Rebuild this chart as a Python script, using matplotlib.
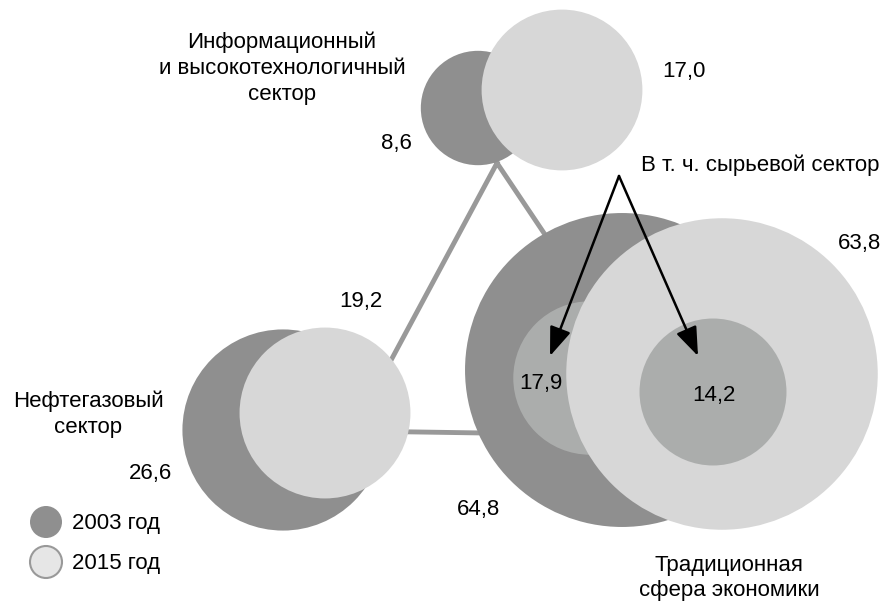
## Bubble diagram: structure of the economy by sector, 2003 vs 2015
#

import numpy as np
import matplotlib
matplotlib.use('Agg')
import matplotlib.pyplot as plt
from matplotlib.patches import Circle

## data

sectors = ['Информационный\nи высокотехнологичный\nсектор',
           'Нефтегазовый\nсектор',
           'Традиционная\nсфера экономики']
val2003 = [8.6, 26.6, 64.8]
val2015 = [17.0, 19.2, 63.8]
raw_label = 'В т. ч. сырьевой сектор'
raw2003 = 17.9
raw2015 = 14.2
years = ['2003 год', '2015 год']

## layout (pixel coordinates, y down)

k = 19.5                                  # radius = k * sqrt(value)
c2003 = [(478, 108), (283, 430), (622, 370)]
c2015 = [(562, 90), (325, 413), (722, 374)]
c_raw2003 = (590, 378)
c_raw2015 = (713, 392)
tri = [(497, 163), (353, 431), (680, 436)]

DARK = '#8f8f8f'
LIGHT = '#d7d7d7'
INNER = '#abadac'

plt.rcParams['font.family'] = ['Liberation Sans', 'DejaVu Sans']
FS = 16

fig = plt.figure(figsize=(8.89, 6.03), dpi=100)
fig.patch.set_facecolor('white')
ax = fig.add_axes([0, 0, 1, 1])
ax.set_xlim(0, 889)
ax.set_ylim(603, 0)
ax.axis('off')

# connecting triangle behind the bubbles
tx = [p[0] for p in tri] + [tri[0][0]]
ty = [p[1] for p in tri] + [tri[0][1]]
ax.plot(tx, ty, color='#999999', linewidth=3.5, zorder=1)

def r(v):
    return k * np.sqrt(v)

z = 2
for i in range(3):
    ax.add_patch(Circle(c2003[i], r(val2003[i]), facecolor=DARK, edgecolor='none', zorder=z))
    z += 1
    if i == 2:
        ax.add_patch(Circle(c_raw2003, r(raw2003) * 0.93, facecolor=INNER, edgecolor='none', zorder=z))
        z += 1
    ax.add_patch(Circle(c2015[i], r(val2015[i]), facecolor=LIGHT, edgecolor='none', zorder=z))
    z += 1
ax.add_patch(Circle(c_raw2015, r(raw2015), facecolor=INNER, edgecolor='none', zorder=z))
z += 1

def fmt(v):
    return ('%.1f' % v).replace('.', ',')

# sector names
ax.text(282, 68, sectors[0], fontsize=FS, ha='center', va='center', linespacing=1.3, zorder=20)
ax.text(88, 414, sectors[1], fontsize=FS, ha='center', va='center', linespacing=1.3, zorder=20)
ax.text(729, 578, sectors[2], fontsize=FS, ha='center', va='center', linespacing=1.3, zorder=20)

# values
ax.text(412, 144, fmt(val2003[0]), fontsize=FS, ha='right', va='center', zorder=20)
ax.text(662, 72, fmt(val2015[0]), fontsize=FS, ha='left', va='center', zorder=20)
ax.text(172, 473, fmt(val2003[1]), fontsize=FS, ha='right', va='center', zorder=20)
ax.text(361, 302, fmt(val2015[1]), fontsize=FS, ha='center', va='center', zorder=20)
ax.text(479, 510, fmt(val2003[2]), fontsize=FS, ha='center', va='center', zorder=20)
ax.text(838, 243, fmt(val2015[2]), fontsize=FS, ha='left', va='center', zorder=20)
ax.text(541, 383, fmt(raw2003), fontsize=FS, ha='center', va='center', zorder=20)
ax.text(714, 395, fmt(raw2015), fontsize=FS, ha='center', va='center', zorder=20)

# raw sector label and arrows
ax.text(760, 165, raw_label, fontsize=FS, ha='center', va='center', zorder=20)
apex = (619, 176)
for tip in [(550, 356), (698, 356)]:
    ax.annotate('', xy=tip, xytext=apex,
                arrowprops=dict(arrowstyle='-|>,head_length=0.8,head_width=0.3',
                                color='black', lw=1.8,
                                mutation_scale=22, shrinkA=0, shrinkB=0),
                zorder=25)

# legend
ax.add_patch(Circle((46, 522), 16, facecolor=DARK, edgecolor='none', zorder=20))
ax.add_patch(Circle((46, 562), 16, facecolor='#e6e6e6', edgecolor='#999999', linewidth=1.5, zorder=20))
ax.text(72, 523, years[0], fontsize=FS, ha='left', va='center', zorder=20)
ax.text(72, 563, years[1], fontsize=FS, ha='left', va='center', zorder=20)

plt.savefig('out.png', dpi=100)
